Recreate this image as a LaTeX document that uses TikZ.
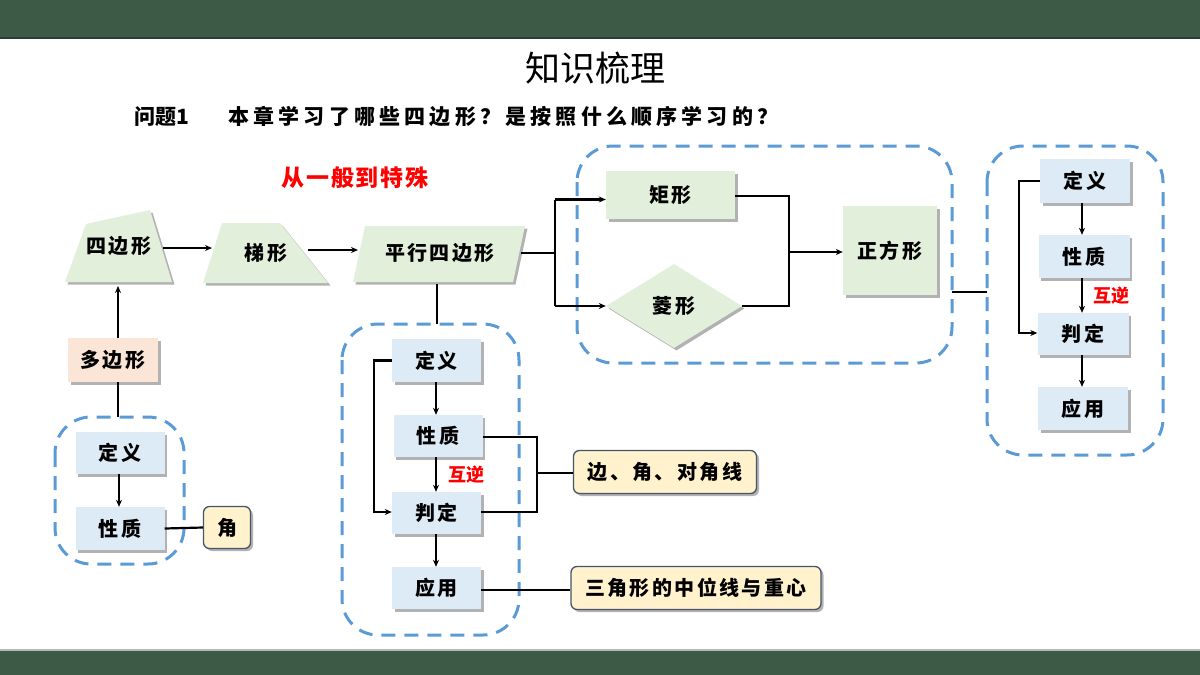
\documentclass[tikz,border=0pt]{standalone}
\usepackage{fontspec}
\setmainfont{Noto Sans CJK SC}
\usetikzlibrary{shadows,shapes.geometric,arrows.meta}
\definecolor{barc}{HTML}{3C5A46}
\definecolor{gfill}{HTML}{E2EFDA}
\definecolor{bfill}{HTML}{DDEBF7}
\definecolor{pfill}{HTML}{FBE5D6}
\definecolor{yfill}{HTML}{FFF2CC}
\definecolor{ybord}{HTML}{44546A}
\definecolor{dashc}{HTML}{5B9BD5}
\begin{document}
\begin{tikzpicture}[x=1pt,y=-1pt,
  sh/.style={drop shadow={shadow xshift=2.5pt,shadow yshift=-2.5pt,fill=black,opacity=0.3}},
  lbl/.style={font=\bfseries\fontsize{20}{20}\selectfont\addfontfeature{LetterSpace=12},inner sep=0pt},
  bbox/.style={lbl,rectangle,fill=bfill,sh},
  gbox/.style={lbl,rectangle,fill=gfill,sh},
  ybox/.style={lbl,rectangle,rounded corners=6pt,fill=yfill,draw=ybord,line width=1.3pt,sh},
  gpoly/.style={fill=gfill,sh},
  dbox/.style={draw=dashc,line width=3pt,dash pattern=on 14pt off 9pt,rounded corners=36pt},
  con/.style={line width=2.2pt,black},
  arr/.style={con,-{Stealth[length=7pt,width=6pt]}},
  red/.style={text=red,font=\bfseries\fontsize{18}{18}\selectfont,inner sep=0pt}]
\useasboundingbox (0,0) rectangle (1200,675);
% bars
\fill[barc] (0,0) rectangle (1200,38);
\fill[barc!70!black] (0,37) rectangle (1200,39);
\fill[barc] (0,650) rectangle (1200,675);
\fill[barc!40!white] (0,649) rectangle (1200,651);
% titles
\node[inner sep=0pt,font=\fontsize{35}{35}\selectfont] (title) at (595,68) {知识梳理};
\node[inner sep=0pt,anchor=west,font=\bfseries\fontsize{21}{21}\selectfont] (q1) at (134,117) {问题1};
\node[inner sep=0pt,anchor=west,font=\bfseries\fontsize{21}{21}\selectfont\addfontfeature{LetterSpace=20}] (q2) at (228,117) {本章学习了哪些四边形？是按照什么顺序学习的？};
\node[inner sep=0pt,text=red,font=\bfseries\fontsize{23}{23}\selectfont\addfontfeature{LetterSpace=8}] (gen) at (355,178) {从一般到特殊};
% dashed boxes
\draw[dbox] (55,417) rectangle (184,564);
\draw[dbox] (342,324) rectangle (519,635);
\draw[dbox] (577,146) rectangle (952,363);
\draw[dbox] (987,146) rectangle (1163,455);
% polygons
\path[gpoly] (86,224) -- (150,210) -- (172,282) -- (65,282) -- cycle;
\node[lbl] (quad) at (119,246) {四边形};
\path[gpoly] (222,223) -- (280,223) -- (328,283) -- (203,283) -- cycle;
\node[lbl] (trap) at (266,253) {梯形};
\path[gpoly] (365,226) -- (525,226) -- (513,282) -- (353,282) -- cycle;
\node[lbl] (para) at (440,253) {平行四边形};
\coordinate (quadE) at (163,248);
\coordinate (quadS) at (118,286);
\coordinate (trapW) at (212,248);
\coordinate (trapE) at (308,250);
\coordinate (paraW) at (358,250);
\coordinate (paraE) at (521,253);
\coordinate (paraS) at (437,284);
% special shapes
\node[gbox,minimum width=129,minimum height=48] (rect) at (670.5,195) {矩形};
\node[lbl,diamond,aspect=1.6,fill=gfill,sh,minimum width=136,minimum height=84] (rhomb) at (674,306) {菱形};
\node[gbox,minimum width=94,minimum height=89] (sq) at (890,250.5) {正方形};
% left column
\node[lbl,rectangle,fill=pfill,sh,minimum width=90,minimum height=44] (poly) at (113,360) {多边形};
\node[bbox,minimum width=89,minimum height=42] (ld1) at (120,453) {定义};
\node[bbox,minimum width=89,minimum height=43] (ld2) at (120,528.5) {性质};
\node[ybox,minimum width=47,minimum height=42] (jiao) at (227,527.5) {角};
% middle column
\node[bbox,minimum width=89,minimum height=43] (md1) at (436.5,360.5) {定义};
\node[bbox,minimum width=89,minimum height=42] (md2) at (438,436) {性质};
\node[bbox,minimum width=89,minimum height=42] (md3) at (436.5,513) {判定};
\node[bbox,minimum width=89,minimum height=42] (md4) at (436.5,588) {应用};
\node[red] (mhn) at (466,475) {互逆};
\node[ybox,minimum width=183,minimum height=43] (bian) at (665,472) {边、角、对角线};
\node[ybox,minimum width=250,minimum height=43] (zhong) at (696,588) {三角形的中位线与重心};
% right column
\node[bbox,minimum width=90,minimum height=44] (rd1) at (1085,181) {定义};
\node[bbox,minimum width=91,minimum height=43] (rd2) at (1084,256.5) {性质};
\node[bbox,minimum width=91,minimum height=42] (rd3) at (1083,334) {判定};
\node[bbox,minimum width=90,minimum height=43] (rd4) at (1083,408.5) {应用};
\node[red] (rhn) at (1111,296) {互逆};
% connectors
\draw[arr] (quadE) -- (trapW);
\draw[arr] (trapE) -- (paraW);
\draw[arr] (poly.north -| quadS) -- (quadS);
\draw[con] (118,417) -- (poly.south -| 118,0);
\draw[con] (paraE) -- (555,253);
\draw[con] (555,200) -- (555,306);
\draw[arr] (555,199.5) -- (rect.west |- 0,199.5);
\draw[arr] (555,306) -- (rhomb.west);
\draw[con] (rect.east |- 0,196) -| (789,252);
\draw[con] (rhomb.east) -| (789,252);
\draw[arr] (789,252) -- (sq.west |- 0,252);
\draw[con] (952,292) -- (987,292);
\draw[con] (paraS) -- (437,324);
% left
\draw[arr] (ld1.south -| 119,0) -- (ld2.north -| 119,0);
\draw[con] (ld2.east) -- (jiao.west);
% middle
\draw[arr] (md1.south -| 436,0) -- (md2.north -| 436,0);
\draw[arr] (md2.south -| 436,0) -- (md3.north -| 436,0);
\draw[arr] (md3.south -| 436,0) -- (md4.north -| 436,0);
\draw[arr] (md1.west) -- (374,360.5) -- (374,512) -- (md3.west |- 0,512);
\draw[con] (md2.east |- 0,437) -- (537,437) -- (537,512) -- (md3.east |- 0,512);
\draw[con] (537,473) -- (bian.west |- 0,473);
\draw[con] (md4.east |- 0,590) -- (zhong.west |- 0,590);
% right
\draw[arr] (rd1.south -| 1082,0) -- (rd2.north -| 1082,0);
\draw[arr] (rd2.south -| 1082,0) -- (rd3.north -| 1082,0);
\draw[arr] (rd3.south -| 1082,0) -- (rd4.north -| 1082,0);
\draw[arr] (rd1.west) -- (1019,181) -- (1019,333) -- (rd3.west |- 0,333);
\end{tikzpicture}
\end{document}
